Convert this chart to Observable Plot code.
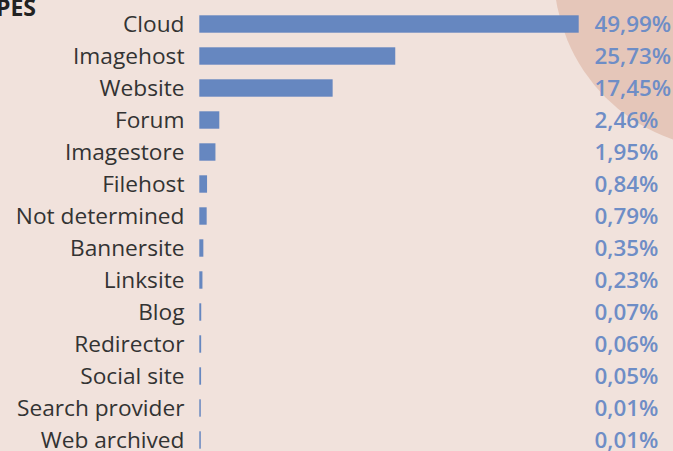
<!DOCTYPE html>
<html>
<head>
<meta charset="utf-8">
<script src="https://cdn.jsdelivr.net/npm/d3@7"></script>
<script src="https://cdn.jsdelivr.net/npm/@observablehq/plot@0.6"></script>
<style>
  html, body { margin: 0; padding: 0; background: #f1e2dc; }
  #wrap { position: relative; width: 673px; height: 451px; overflow: hidden; background: #f1e2dc; font-family: "Open Sans", sans-serif; }
  #circle { position: absolute; left: 554px; top: -203px; width: 352px; height: 352px; border-radius: 50%; background: #e5c6b9; }
  #title { position: absolute; right: 637px; top: -9px; font-size: 23px; font-weight: 700; color: #222; white-space: nowrap; }
  #chart { position: absolute; left: 0; top: 0; }
</style>
</head>
<body>
<div id="wrap">
  <div id="circle"></div>
  <div id="title">TYPES</div>
  <div id="chart"></div>
</div>
<script>
const categories = ["Cloud", "Imagehost", "Website", "Forum", "Imagestore", "Filehost", "Not determined", "Bannersite", "Linksite", "Blog", "Redirector", "Social site", "Search provider", "Web archived"];
const values = [49.99, 25.73, 17.45, 2.46, 1.95, 0.84, 0.79, 0.35, 0.23, 0.07, 0.06, 0.05, 0.01, 0.01];
const valueLabels = ["49,99%", "25,73%", "17,45%", "2,46%", "1,95%", "0,84%", "0,79%", "0,35%", "0,23%", "0,07%", "0,06%", "0,05%", "0,01%", "0,01%"];

const data = categories.map((c, i) => ({category: c, value: values[i], label: valueLabels[i]}));

const chart = Plot.plot({
  width: 673,
  height: 451,
  marginLeft: 200,
  marginRight: 95,
  marginTop: 0,
  marginBottom: 0,
  style: {background: "transparent", fontFamily: "'Open Sans', sans-serif", fontSize: "22.7px", color: "#333"},
  x: {domain: [0, 49.99], axis: null},
  y: {domain: categories, range: [7, 456], paddingInner: 0.5, paddingOuter: 0.25, axis: null},
  marks: [
    Plot.axisY({tickSize: 0, tickPadding: 16, fontSize: 22.7, fill: "#333", label: null}),
    Plot.barX(data, {x: "value", y: "category", fill: "#6687c0", stroke: "#6687c0", strokeWidth: 1.4}),
    Plot.text(data, {y: "category", text: "label", frameAnchor: "right", dx: 16, textAnchor: "start", fill: "#6e8dc6", fontWeight: 600, fontSize: 22.4})
  ]
});
document.getElementById("chart").appendChild(chart);
</script>
</body>
</html>
